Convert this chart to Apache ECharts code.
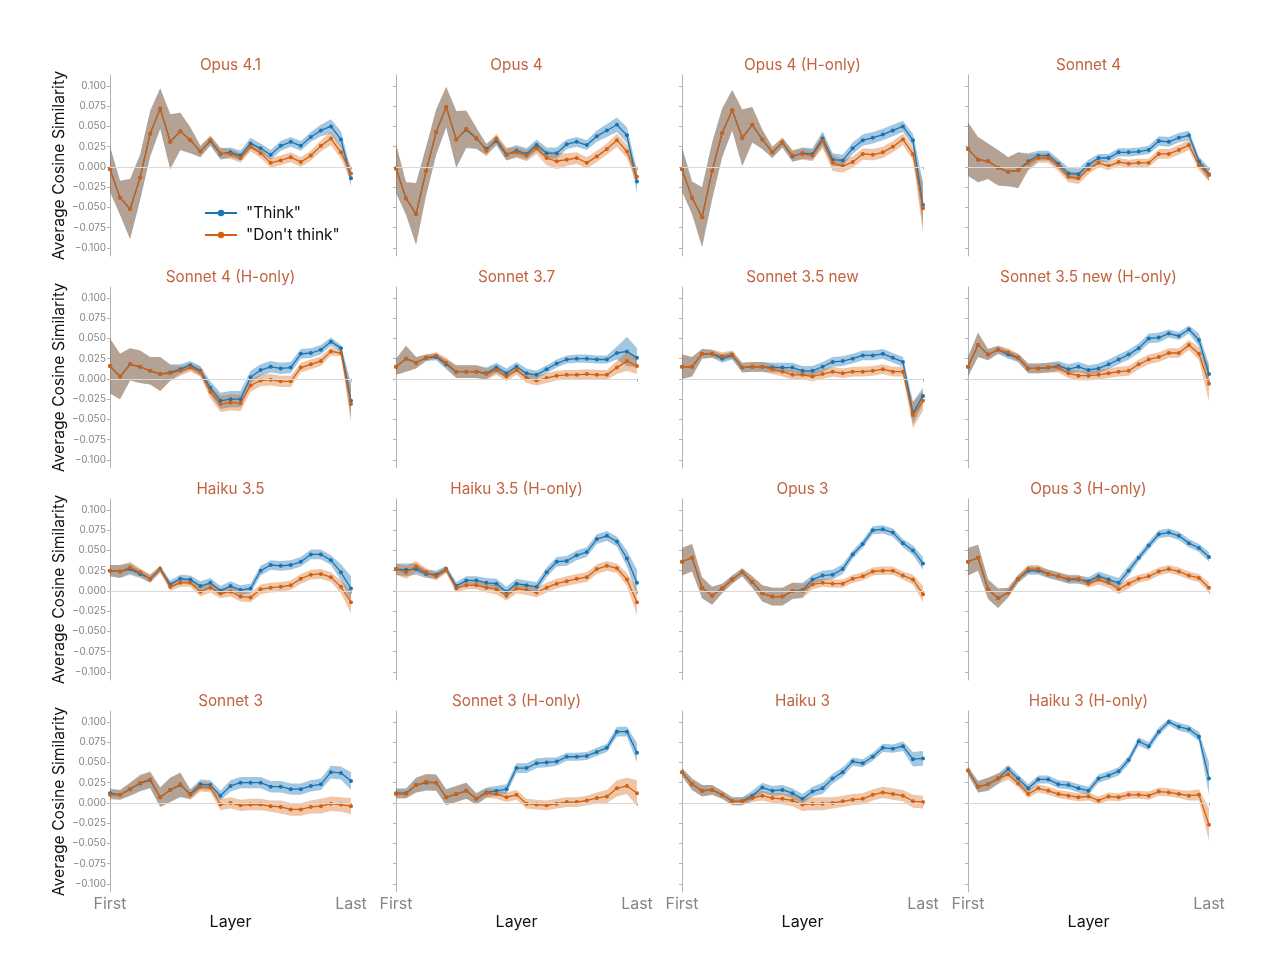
<!DOCTYPE html>
<html><head><meta charset="utf-8">
<script src="https://cdn.jsdelivr.net/npm/echarts@6/dist/echarts.min.js"></script>
<style>html,body{margin:0;padding:0;background:#fff}#chart{width:1274px;height:972px}</style>
</head><body><div id="chart"></div>
<script>
// ---------- data ----------
const panelTitles = ['Opus 4.1','Opus 4','Opus 4 (H-only)','Sonnet 4',
  'Sonnet 4 (H-only)','Sonnet 3.7','Sonnet 3.5 new','Sonnet 3.5 new (H-only)',
  'Haiku 3.5','Haiku 3.5 (H-only)','Opus 3','Opus 3 (H-only)',
  'Sonnet 3','Sonnet 3 (H-only)','Haiku 3','Haiku 3 (H-only)'];
const seriesNames = ['"Think"', '"Don\'t think"'];
const yTickValues = [-0.1, -0.075, -0.05, -0.025, 0, 0.025, 0.05, 0.075, 0.1];
const xEndLabels = ['First', 'Last'];

const opus41Think    = [-0.003,-0.038,-0.052,-0.013,0.041,0.072,0.031,0.044,0.033,0.019,0.032,0.016,0.018,0.014,0.029,0.023,0.015,0.026,0.031,0.026,0.037,0.045,0.050,0.034,-0.014];
const opus41ThinkErr = [0.028,0.021,0.037,0.028,0.028,0.025,0.034,0.023,0.016,0.007,0.006,0.007,0.006,0.006,0.007,0.006,0.006,0.006,0.006,0.006,0.006,0.007,0.009,0.010,0.010];
const opus41Dont     = [-0.003,-0.038,-0.052,-0.013,0.041,0.072,0.031,0.044,0.033,0.019,0.033,0.017,0.016,0.011,0.025,0.017,0.005,0.008,0.012,0.006,0.014,0.026,0.035,0.018,-0.008];
const opus41DontErr  = [0.028,0.021,0.037,0.028,0.028,0.025,0.034,0.023,0.016,0.007,0.006,0.007,0.006,0.006,0.006,0.006,0.006,0.006,0.006,0.006,0.006,0.007,0.008,0.008,0.009];

const opus4Think    = [-0.002,-0.039,-0.058,-0.005,0.043,0.074,0.034,0.046,0.035,0.022,0.032,0.015,0.020,0.016,0.027,0.017,0.017,0.028,0.031,0.027,0.038,0.045,0.052,0.039,-0.018];
const opus4ThinkErr = [0.030,0.020,0.038,0.030,0.028,0.025,0.035,0.023,0.013,0.007,0.006,0.007,0.007,0.007,0.007,0.007,0.007,0.006,0.006,0.006,0.007,0.008,0.009,0.010,0.014];
const opus4Dont     = [-0.002,-0.039,-0.058,-0.005,0.043,0.074,0.034,0.047,0.036,0.020,0.035,0.016,0.018,0.014,0.023,0.011,0.007,0.009,0.011,0.005,0.013,0.022,0.033,0.019,-0.012];
const opus4DontErr  = [0.030,0.020,0.038,0.030,0.028,0.025,0.035,0.023,0.013,0.007,0.006,0.008,0.007,0.007,0.007,0.009,0.010,0.008,0.007,0.007,0.007,0.007,0.008,0.008,0.010];

const opus4hThink    = [-0.003,-0.038,-0.062,-0.005,0.042,0.070,0.036,0.052,0.034,0.018,0.030,0.013,0.017,0.016,0.035,0.009,0.008,0.023,0.033,0.036,0.040,0.045,0.050,0.033,-0.047];
const opus4hThinkErr = [0.027,0.020,0.037,0.035,0.030,0.025,0.035,0.022,0.012,0.007,0.006,0.007,0.007,0.007,0.009,0.008,0.007,0.007,0.007,0.007,0.007,0.007,0.007,0.008,0.028];
const opus4hDont     = [-0.003,-0.038,-0.062,-0.005,0.042,0.070,0.036,0.052,0.034,0.018,0.030,0.014,0.016,0.014,0.032,0.005,0.001,0.006,0.016,0.015,0.018,0.025,0.034,0.016,-0.051];
const opus4hDontErr  = [0.027,0.020,0.037,0.035,0.030,0.025,0.035,0.022,0.012,0.007,0.006,0.007,0.007,0.007,0.009,0.010,0.008,0.007,0.007,0.007,0.007,0.007,0.007,0.008,0.030];

const sonnet4Think    = [0.022,0.009,0.007,-0.001,-0.006,-0.004,0.007,0.014,0.014,0.004,-0.008,-0.009,0.003,0.011,0.011,0.018,0.018,0.019,0.021,0.032,0.031,0.036,0.039,0.007,-0.009];
const sonnet4ThinkErr = [0.033,0.028,0.022,0.022,0.018,0.022,0.010,0.006,0.006,0.006,0.007,0.007,0.006,0.005,0.005,0.005,0.005,0.005,0.005,0.006,0.006,0.006,0.006,0.006,0.008];
const sonnet4Dont     = [0.022,0.009,0.007,-0.001,-0.006,-0.004,0.005,0.011,0.011,0.001,-0.012,-0.014,-0.003,0.005,0.001,0.006,0.004,0.005,0.005,0.016,0.016,0.021,0.027,0.002,-0.010];
const sonnet4DontErr  = [0.033,0.028,0.022,0.022,0.018,0.022,0.010,0.006,0.006,0.006,0.007,0.007,0.006,0.005,0.005,0.005,0.005,0.005,0.005,0.006,0.006,0.006,0.006,0.006,0.008];

const sonnet4hThink    = [0.016,0.003,0.018,0.015,0.010,0.006,0.008,0.012,0.017,0.010,-0.011,-0.027,-0.025,-0.025,0.002,0.011,0.015,0.013,0.014,0.031,0.032,0.036,0.046,0.038,-0.027];
const sonnet4hThinkErr = [0.034,0.028,0.020,0.020,0.017,0.021,0.010,0.006,0.005,0.006,0.008,0.010,0.010,0.010,0.008,0.007,0.007,0.007,0.007,0.006,0.006,0.006,0.005,0.004,0.022];
const sonnet4hDont     = [0.016,0.003,0.018,0.015,0.010,0.006,0.007,0.010,0.014,0.009,-0.016,-0.031,-0.029,-0.030,-0.008,-0.002,-0.001,-0.003,-0.003,0.014,0.018,0.022,0.034,0.032,-0.031];
const sonnet4hDontErr  = [0.034,0.028,0.020,0.020,0.017,0.021,0.010,0.006,0.005,0.006,0.008,0.010,0.010,0.010,0.008,0.007,0.007,0.007,0.007,0.006,0.006,0.006,0.005,0.004,0.022];

const sonnet37Think    = [0.015,0.025,0.020,0.026,0.027,0.018,0.009,0.009,0.009,0.007,0.014,0.007,0.015,0.007,0.005,0.012,0.019,0.024,0.025,0.025,0.024,0.024,0.032,0.034,0.026];
const sonnet37ThinkErr = [0.010,0.016,0.007,0.004,0.004,0.006,0.008,0.008,0.008,0.007,0.006,0.006,0.006,0.006,0.005,0.005,0.005,0.005,0.005,0.005,0.005,0.005,0.008,0.018,0.012];
const sonnet37Dont     = [0.015,0.025,0.020,0.026,0.029,0.020,0.009,0.009,0.009,0.006,0.011,0.003,0.011,0.001,-0.002,0.001,0.004,0.005,0.005,0.006,0.005,0.005,0.014,0.022,0.016];
const sonnet37DontErr  = [0.010,0.016,0.007,0.004,0.004,0.006,0.008,0.008,0.008,0.007,0.006,0.006,0.006,0.006,0.006,0.006,0.006,0.006,0.006,0.006,0.006,0.006,0.008,0.012,0.010];

const sonnet35Think    = [0.015,0.015,0.031,0.031,0.025,0.029,0.014,0.015,0.015,0.014,0.014,0.014,0.010,0.010,0.015,0.021,0.022,0.025,0.029,0.029,0.031,0.026,0.021,-0.042,-0.021];
const sonnet35ThinkErr = [0.015,0.012,0.006,0.005,0.005,0.005,0.006,0.006,0.006,0.006,0.006,0.006,0.006,0.006,0.006,0.006,0.006,0.006,0.006,0.006,0.006,0.006,0.006,0.014,0.010];
const sonnet35Dont     = [0.015,0.015,0.031,0.031,0.028,0.030,0.014,0.015,0.015,0.012,0.009,0.005,0.005,0.003,0.006,0.009,0.007,0.009,0.009,0.010,0.012,0.009,0.009,-0.045,-0.027];
const sonnet35DontErr  = [0.015,0.012,0.006,0.005,0.005,0.005,0.006,0.006,0.006,0.006,0.006,0.006,0.006,0.006,0.006,0.006,0.006,0.006,0.006,0.006,0.006,0.006,0.006,0.016,0.012];

const sonnet35hThink    = [0.015,0.042,0.030,0.036,0.030,0.026,0.013,0.013,0.014,0.016,0.012,0.015,0.011,0.013,0.018,0.024,0.030,0.038,0.050,0.051,0.056,0.053,0.061,0.048,0.006];
const sonnet35hThinkErr = [0.012,0.015,0.007,0.005,0.005,0.005,0.006,0.006,0.006,0.006,0.006,0.006,0.006,0.006,0.006,0.006,0.006,0.006,0.006,0.006,0.005,0.005,0.005,0.008,0.012];
const sonnet35hDont     = [0.015,0.042,0.030,0.036,0.033,0.026,0.013,0.013,0.014,0.014,0.007,0.004,0.004,0.005,0.007,0.009,0.010,0.018,0.024,0.027,0.032,0.032,0.042,0.031,-0.006];
const sonnet35hDontErr  = [0.012,0.015,0.007,0.005,0.005,0.005,0.006,0.006,0.006,0.006,0.006,0.006,0.006,0.006,0.006,0.006,0.006,0.006,0.006,0.006,0.006,0.006,0.006,0.008,0.022];

const haiku35Think    = [0.025,0.024,0.027,0.021,0.015,0.027,0.008,0.015,0.014,0.006,0.010,0.000,0.006,0.001,0.003,0.025,0.032,0.031,0.032,0.036,0.045,0.045,0.038,0.023,0.003];
const haiku35ThinkErr = [0.007,0.008,0.007,0.005,0.005,0.004,0.005,0.005,0.005,0.006,0.006,0.006,0.006,0.006,0.006,0.006,0.006,0.006,0.006,0.006,0.006,0.006,0.006,0.010,0.015];
const haiku35Dont     = [0.025,0.024,0.029,0.023,0.015,0.027,0.005,0.010,0.010,-0.001,0.004,-0.003,-0.001,-0.007,-0.008,0.002,0.004,0.005,0.007,0.015,0.020,0.021,0.017,0.005,-0.014];
const haiku35DontErr  = [0.007,0.008,0.007,0.005,0.005,0.004,0.005,0.005,0.005,0.006,0.006,0.006,0.006,0.006,0.006,0.006,0.006,0.006,0.006,0.006,0.006,0.006,0.006,0.008,0.014];

const haiku35hThink    = [0.027,0.026,0.027,0.021,0.020,0.027,0.006,0.013,0.013,0.010,0.009,-0.001,0.009,0.007,0.005,0.023,0.036,0.037,0.044,0.048,0.064,0.068,0.061,0.040,0.010];
const haiku35hThinkErr = [0.007,0.008,0.007,0.005,0.005,0.004,0.005,0.005,0.005,0.006,0.006,0.006,0.006,0.006,0.006,0.006,0.006,0.006,0.006,0.006,0.006,0.006,0.006,0.010,0.016];
const haiku35hDont     = [0.027,0.023,0.030,0.023,0.018,0.026,0.003,0.007,0.007,0.004,0.002,-0.006,0.003,0.001,-0.002,0.004,0.009,0.012,0.015,0.017,0.027,0.031,0.028,0.014,-0.014];
const haiku35hDontErr  = [0.007,0.008,0.007,0.005,0.005,0.004,0.005,0.005,0.005,0.006,0.006,0.006,0.006,0.006,0.006,0.006,0.006,0.006,0.006,0.006,0.006,0.006,0.006,0.008,0.016];

const opus3Think    = [0.036,0.041,0.004,-0.006,0.003,0.014,0.023,0.011,-0.003,-0.007,-0.007,0.000,0.001,0.014,0.019,0.020,0.027,0.045,0.058,0.075,0.076,0.072,0.059,0.050,0.034];
const opus3ThinkErr = [0.017,0.017,0.013,0.011,0.006,0.005,0.005,0.007,0.010,0.011,0.011,0.010,0.009,0.006,0.006,0.006,0.006,0.005,0.005,0.005,0.005,0.005,0.005,0.006,0.008];
const opus3Dont     = [0.036,0.041,0.004,-0.006,0.003,0.014,0.023,0.011,-0.003,-0.007,-0.007,0.000,0.000,0.008,0.010,0.009,0.009,0.015,0.018,0.024,0.025,0.025,0.019,0.014,-0.004];
const opus3DontErr  = [0.017,0.017,0.013,0.011,0.006,0.005,0.005,0.007,0.010,0.011,0.011,0.010,0.009,0.006,0.005,0.005,0.005,0.005,0.005,0.005,0.005,0.005,0.005,0.006,0.010];

const opus3hThink    = [0.036,0.041,0.002,-0.009,-0.002,0.015,0.025,0.025,0.021,0.018,0.014,0.014,0.012,0.018,0.014,0.010,0.025,0.041,0.056,0.070,0.072,0.068,0.059,0.053,0.042];
const opus3hThinkErr = [0.017,0.016,0.012,0.012,0.006,0.005,0.005,0.005,0.005,0.005,0.005,0.005,0.005,0.006,0.006,0.006,0.006,0.005,0.005,0.005,0.005,0.005,0.005,0.005,0.006];
const opus3hDont     = [0.036,0.041,0.002,-0.009,-0.002,0.015,0.027,0.027,0.021,0.018,0.015,0.015,0.009,0.014,0.010,0.002,0.009,0.015,0.018,0.024,0.027,0.024,0.019,0.016,0.004];
const opus3hDontErr  = [0.017,0.016,0.012,0.012,0.006,0.005,0.005,0.005,0.005,0.005,0.005,0.005,0.005,0.006,0.006,0.006,0.006,0.005,0.005,0.005,0.005,0.005,0.005,0.005,0.006];

const sonnet3Think    = [0.012,0.010,0.017,0.024,0.028,0.007,0.016,0.022,0.011,0.023,0.022,0.009,0.021,0.025,0.025,0.025,0.020,0.020,0.017,0.017,0.021,0.023,0.038,0.037,0.027];
const sonnet3ThinkErr = [0.006,0.006,0.008,0.010,0.010,0.012,0.015,0.015,0.006,0.006,0.006,0.006,0.007,0.007,0.007,0.007,0.007,0.007,0.007,0.007,0.007,0.007,0.008,0.008,0.011];
const sonnet3Dont     = [0.010,0.010,0.017,0.025,0.029,0.007,0.016,0.023,0.010,0.020,0.019,-0.002,0.000,-0.003,-0.002,-0.002,-0.004,-0.005,-0.008,-0.008,-0.005,-0.004,-0.001,-0.002,-0.004];
const sonnet3DontErr  = [0.006,0.006,0.008,0.010,0.010,0.012,0.015,0.015,0.006,0.006,0.006,0.007,0.007,0.007,0.007,0.007,0.007,0.008,0.008,0.008,0.008,0.009,0.009,0.009,0.010];

const sonnet3hThink    = [0.012,0.012,0.022,0.025,0.025,0.007,0.011,0.015,0.005,0.013,0.015,0.017,0.043,0.043,0.049,0.050,0.051,0.057,0.057,0.058,0.063,0.068,0.088,0.088,0.062];
const sonnet3hThinkErr = [0.006,0.006,0.009,0.010,0.010,0.010,0.010,0.010,0.007,0.006,0.006,0.006,0.006,0.006,0.006,0.006,0.005,0.005,0.005,0.005,0.005,0.005,0.006,0.006,0.012];
const sonnet3hDont     = [0.011,0.011,0.022,0.026,0.025,0.007,0.011,0.015,0.005,0.012,0.011,0.007,0.010,-0.001,-0.002,-0.003,-0.001,0.001,0.001,0.003,0.006,0.008,0.018,0.021,0.012];
const sonnet3hDontErr  = [0.006,0.006,0.009,0.010,0.010,0.010,0.010,0.010,0.007,0.006,0.006,0.006,0.006,0.006,0.006,0.006,0.006,0.006,0.006,0.006,0.007,0.008,0.010,0.010,0.016];

const haiku3Think    = [0.038,0.023,0.015,0.016,0.010,0.002,0.002,0.009,0.019,0.015,0.016,0.012,0.005,0.014,0.018,0.030,0.038,0.051,0.049,0.057,0.068,0.067,0.070,0.054,0.055];
const haiku3ThinkErr = [0.005,0.007,0.007,0.006,0.005,0.005,0.005,0.006,0.006,0.006,0.006,0.006,0.006,0.006,0.007,0.006,0.006,0.005,0.005,0.005,0.005,0.005,0.006,0.009,0.009];
const haiku3Dont     = [0.038,0.023,0.015,0.016,0.010,0.002,0.002,0.006,0.009,0.006,0.005,0.003,-0.002,-0.001,-0.001,0.000,0.002,0.004,0.005,0.010,0.013,0.011,0.009,0.002,0.001];
const haiku3DontErr  = [0.005,0.007,0.007,0.006,0.005,0.005,0.005,0.005,0.006,0.006,0.007,0.007,0.008,0.008,0.008,0.007,0.007,0.007,0.007,0.007,0.007,0.007,0.007,0.008,0.008];

const haiku3hThink    = [0.040,0.020,0.023,0.030,0.042,0.030,0.018,0.029,0.029,0.023,0.022,0.018,0.015,0.030,0.034,0.039,0.053,0.076,0.070,0.088,0.100,0.094,0.091,0.082,0.030];
const haiku3hThinkErr = [0.005,0.007,0.008,0.006,0.005,0.005,0.005,0.005,0.005,0.005,0.005,0.005,0.005,0.005,0.005,0.005,0.005,0.005,0.005,0.005,0.004,0.005,0.005,0.006,0.020];
const haiku3hDont     = [0.040,0.020,0.023,0.030,0.035,0.024,0.011,0.018,0.015,0.011,0.009,0.007,0.008,0.003,0.008,0.007,0.010,0.010,0.009,0.014,0.013,0.011,0.009,0.010,-0.027];
const haiku3hDontErr  = [0.005,0.007,0.008,0.007,0.006,0.005,0.005,0.005,0.005,0.005,0.005,0.005,0.005,0.005,0.005,0.005,0.005,0.005,0.005,0.005,0.005,0.005,0.006,0.007,0.020];

const panelData = [
  [opus41Think, opus41ThinkErr, opus41Dont, opus41DontErr],
  [opus4Think, opus4ThinkErr, opus4Dont, opus4DontErr],
  [opus4hThink, opus4hThinkErr, opus4hDont, opus4hDontErr],
  [sonnet4Think, sonnet4ThinkErr, sonnet4Dont, sonnet4DontErr],
  [sonnet4hThink, sonnet4hThinkErr, sonnet4hDont, sonnet4hDontErr],
  [sonnet37Think, sonnet37ThinkErr, sonnet37Dont, sonnet37DontErr],
  [sonnet35Think, sonnet35ThinkErr, sonnet35Dont, sonnet35DontErr],
  [sonnet35hThink, sonnet35hThinkErr, sonnet35hDont, sonnet35hDontErr],
  [haiku35Think, haiku35ThinkErr, haiku35Dont, haiku35DontErr],
  [haiku35hThink, haiku35hThinkErr, haiku35hDont, haiku35hDontErr],
  [opus3Think, opus3ThinkErr, opus3Dont, opus3DontErr],
  [opus3hThink, opus3hThinkErr, opus3hDont, opus3hDontErr],
  [sonnet3Think, sonnet3ThinkErr, sonnet3Dont, sonnet3DontErr],
  [sonnet3hThink, sonnet3hThinkErr, sonnet3hDont, sonnet3hDontErr],
  [haiku3Think, haiku3ThinkErr, haiku3Dont, haiku3DontErr],
  [haiku3hThink, haiku3hThinkErr, haiku3hDont, haiku3hDontErr]
];

// ---------- layout & style ----------
const FONT = 'Inter, "Noto Sans", sans-serif';
const BLUE = '#1a74b2', ORANGE = '#d4600f';
const BLUE_BAND = 'rgba(26,116,178,0.40)', ORANGE_BAND = 'rgba(212,96,15,0.36)';
const TITLE_COLOR = '#c2623f', AXIS_COLOR = '#b3b3b3', TICK_TEXT = '#858585';
const colLeft = [110, 396, 682, 968];
const rowTop = [75, 287, 499, 711];
const GW = 241, GH = 181;

const grids = [], xAxes = [], yAxes = [], titles = [], series = [];
const fmtY = v => (v < 0 ? '\u2212' : '') + Math.abs(v).toFixed(3);

panelData.forEach((pd, p) => {
  const r = Math.floor(p / 4), c = p % 4;
  const [think, thinkErr, dont, dontErr] = pd;
  const n = think.length;
  const layers = think.map((_, i) => String(i));
  const isEnd = (i) => i === 0 || i === n - 1;

  grids.push({ left: colLeft[c], top: rowTop[r], width: GW, height: GH });
  titles.push({
    text: panelTitles[p], left: colLeft[c] + GW / 2, top: rowTop[r] - 17, textAlign: 'center', padding: 0,
    textStyle: { fontFamily: FONT, fontSize: 15.3, fontWeight: 'normal', color: TITLE_COLOR }
  });
  xAxes.push({
    type: 'category', gridIndex: p, data: layers, boundaryGap: false,
    axisLine: { show: true, lineStyle: { color: AXIS_COLOR, width: 1 } },
    axisTick: { show: true, length: 3, interval: (i) => isEnd(i), lineStyle: { color: AXIS_COLOR } },
    axisLabel: { show: r === 3, interval: (i) => isEnd(i), margin: 4,
      formatter: (v, i) => (i === 0 ? xEndLabels[0] : xEndLabels[1]),
      fontFamily: FONT, fontSize: 16, color: TICK_TEXT },
    splitLine: { show: false },
    name: r === 3 ? 'Layer' : '', nameLocation: 'middle', nameGap: 22,
    nameTextStyle: { fontFamily: FONT, fontSize: 16, color: '#111' }
  });
  yAxes.push({
    type: 'value', gridIndex: p, min: -0.11, max: 0.1135,
    axisLine: { show: true, lineStyle: { color: AXIS_COLOR, width: 1 } },
    axisTick: { show: true, length: 3, customValues: yTickValues, lineStyle: { color: AXIS_COLOR } },
    axisLabel: { show: c === 0, customValues: yTickValues, formatter: fmtY, margin: 4,
      fontFamily: FONT, fontSize: 10, color: TICK_TEXT },
    splitLine: { show: false },
    name: c === 0 ? 'Average Cosine Similarity' : '', nameLocation: 'middle', nameGap: 43, nameRotate: 90,
    nameTextStyle: { fontFamily: FONT, fontSize: 15.7, color: '#111' }
  });

  const band = (vals, errs, color, key) => {
    const lower = vals.map((v, i) => +(v - errs[i]).toFixed(4));
    const span = errs.map(e => +(2 * e).toFixed(4));
    series.push({
      type: 'line', name: 'low' + key + p, xAxisIndex: p, yAxisIndex: p, data: lower,
      stack: key + p, stackStrategy: 'all', symbol: 'none', silent: true,
      lineStyle: { width: 0, opacity: 0 }, z: 1
    });
    series.push({
      type: 'line', name: 'band' + key + p, xAxisIndex: p, yAxisIndex: p, data: span,
      stack: key + p, stackStrategy: 'all', symbol: 'none', silent: true,
      lineStyle: { width: 0, opacity: 0 }, areaStyle: { color: color, opacity: 1 }, z: 2
    });
  };
  series.push({
    type: 'line', name: 'zero' + p, xAxisIndex: p, yAxisIndex: p, data: [], silent: true, z: 0,
    markLine: { silent: true, symbol: 'none', animation: false, label: { show: false },
      lineStyle: { color: '#d9d9d9', width: 1, type: 'solid' }, data: [{ yAxis: 0 }] }
  });
  band(think, thinkErr, BLUE_BAND, 't');
  band(dont, dontErr, ORANGE_BAND, 'd');
  series.push({
    type: 'line', name: seriesNames[0], xAxisIndex: p, yAxisIndex: p, data: think,
    symbol: 'circle', symbolSize: 4, showAllSymbol: true,
    lineStyle: { color: BLUE, width: 1.3 }, itemStyle: { color: BLUE }, z: 3
  });
  series.push({
    type: 'line', name: seriesNames[1], xAxisIndex: p, yAxisIndex: p, data: dont,
    symbol: 'circle', symbolSize: 4, showAllSymbol: true,
    lineStyle: { color: ORANGE, width: 1.3 }, itemStyle: { color: ORANGE }, z: 4
  });
});

const chart = echarts.init(document.getElementById('chart'), null, { renderer: 'canvas' });
chart.setOption({
  backgroundColor: '#ffffff',
  animation: false,
  textStyle: { fontFamily: FONT },
  title: titles,
  legend: {
    data: seriesNames, orient: 'vertical', left: 199, top: 200,
    itemWidth: 32, itemHeight: 8, itemGap: 6,
    textStyle: { fontFamily: FONT, fontSize: 15.5, color: '#111', padding: [0, 0, 0, 4] }
  },
  grid: grids, xAxis: xAxes, yAxis: yAxes, series: series
});
</script></body></html>
